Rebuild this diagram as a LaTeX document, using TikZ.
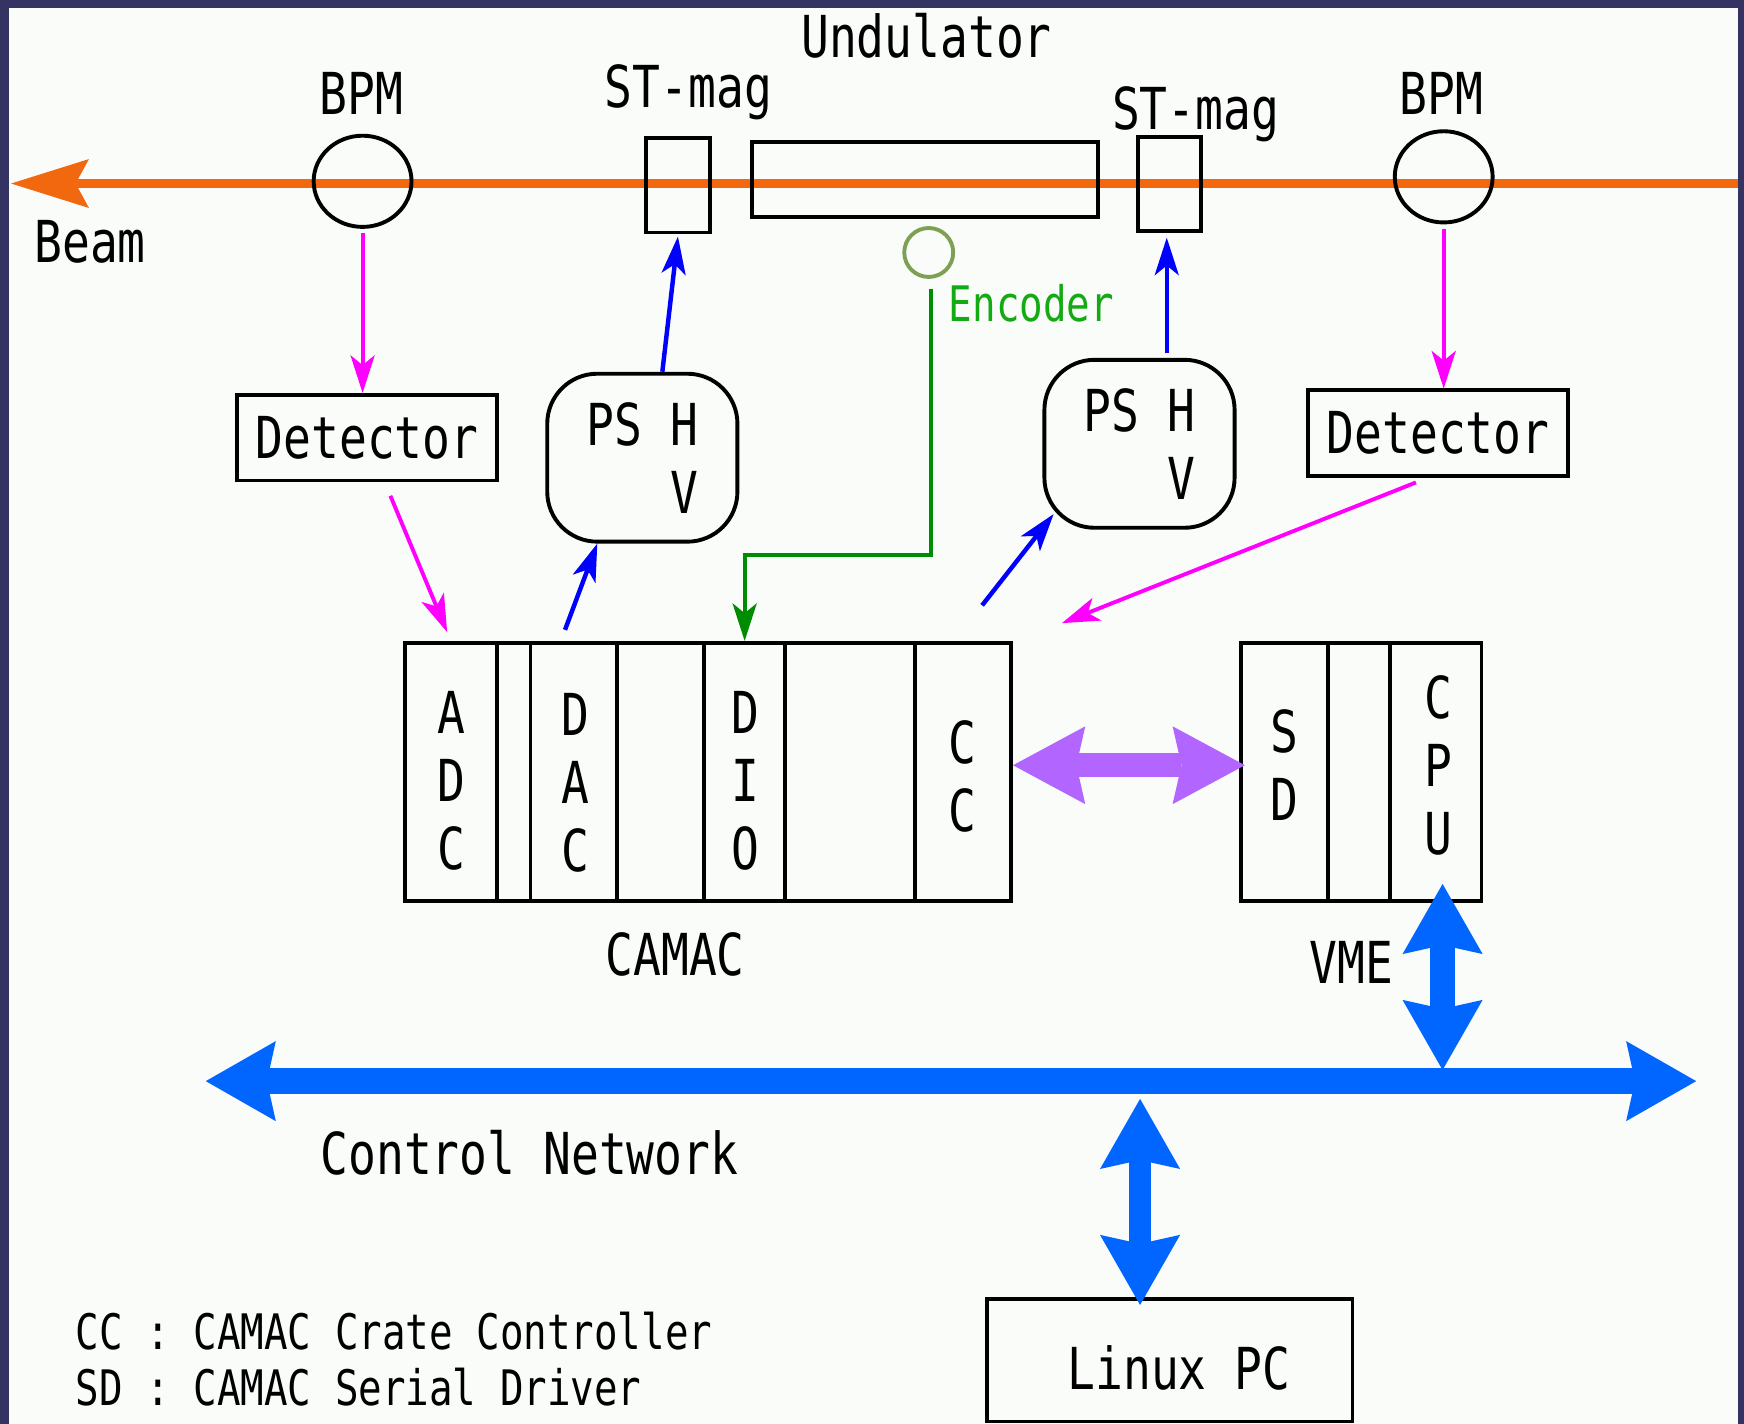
\documentclass[tikz,border=0pt]{standalone}
\usepackage{fontspec}
\setmainfont{DejaVu Sans Mono}[FakeStretch=0.8]
\usetikzlibrary{arrows.meta,shapes.geometric,calc}
\definecolor{frameC}{RGB}{52,51,98}
\definecolor{bgC}{RGB}{250,252,250}
\definecolor{beamC}{RGB}{242,104,14}
\definecolor{magC}{RGB}{255,0,255}
\definecolor{bluC}{RGB}{0,0,255}
\definecolor{grnC}{RGB}{0,140,0}
\definecolor{encT}{RGB}{20,170,20}
\definecolor{encC}{RGB}{125,160,85}
\definecolor{purpC}{RGB}{178,102,255}
\definecolor{netC}{RGB}{0,102,255}
\begin{document}
\begin{tikzpicture}[x=1pt,y=-1pt,
  box/.style={draw, line width=3.5pt, inner sep=0pt},
  lbl/.style={font=\fontsize{52}{61}\selectfont, inner sep=0pt},
  slbl/.style={font=\fontsize{44}{51}\selectfont, inner sep=0pt},
  beamline/.style={draw=beamC, line width=8.5pt, -{Stealth[length=70pt,width=44pt,inset=12pt,line width=0pt]}},
  thin/.style={line width=3.5pt, -{Stealth[length=34pt,width=22pt,inset=9pt,line width=0pt]}},
  magarr/.style={thin, draw=magC},
  bluarr/.style={thin, draw=bluC, line width=4pt},
  grnarr/.style={thin, draw=grnC},
  purparr/.style={draw=purpC, line width=22pt, {Stealth[length=65pt,width=70pt,inset=8pt,line width=0pt]}-{Stealth[length=65pt,width=70pt,inset=8pt,line width=0pt]}},
  netarr/.style={draw=netC, {Stealth[length=63pt,width=72pt,inset=8pt,line width=0pt]}-{Stealth[length=63pt,width=72pt,inset=8pt,line width=0pt]}},
]
\useasboundingbox (0,0) rectangle (1568,1280);
\fill[frameC] (0,0) rectangle (1568,1280);
\fill[bgC] (8,7) rectangle (1563,1280);

% beam line
\coordinate (beamR) at (1563,165);
\coordinate (beamL) at (10,165);
\draw[beamline] (beamR) -- (beamL);

% beamline elements
\node[ellipse, box, minimum width=88, minimum height=82] (bpmL) at (326,163) {};
\node[box, minimum width=57, minimum height=85] (stL) at (609.5,166.5) {};
\node[box, minimum width=311, minimum height=67] (und) at (831.5,161.5) {};
\node[box, minimum width=57, minimum height=85] (stR) at (1051.5,165.5) {};
\node[ellipse, box, minimum width=88, minimum height=82] (bpmR) at (1298,159) {};
\node[ellipse, draw=encC, line width=3.5pt, minimum size=44, inner sep=0pt] (enc) at (835,227) {};

% labels
\node[lbl, anchor=base] (bpmLt) at (325,103) {BPM};
\node[lbl, anchor=base] (stLt) at (619,97) {ST-mag};
\node[lbl, anchor=base] (undt) at (833,52) {Undulator};
\node[lbl, anchor=base] (stRt) at (1075,116) {ST-mag};
\node[lbl, anchor=base] (bpmRt) at (1296,103) {BPM};
\node[lbl, anchor=base] (beamt) at (81,236) {Beam};
\node[slbl, anchor=base west, text=encT] (enct) at (853,289) {Encoder};

% detectors and power supplies
\node[box, lbl, minimum width=234, minimum height=77] (detL) at (330,393.5) {Detector};
\node[box, lbl, minimum width=234, minimum height=77] (detR) at (1293,389.5) {Detector};
\node[box, lbl, rounded corners=45pt, minimum width=171, minimum height=151, align=left] (psL) at (577.5,411.5) {PS H\\\hphantom{PSH}V};
\node[box, lbl, rounded corners=45pt, minimum width=171, minimum height=151, align=left] (psR) at (1024.5,399) {PS H\\\hphantom{PSH}V};

% CAMAC crate
\node[box, minimum width=83, minimum height=232] (adc) at (405.5,694) {};
\node[box, minimum width=30, minimum height=232] (cm1) at (462,694) {};
\node[box, minimum width=78, minimum height=232] (dac) at (516,694) {};
\node[box, minimum width=78, minimum height=232] (cm2) at (594,694) {};
\node[box, minimum width=73, minimum height=232] (dio) at (669.5,694) {};
\node[box, minimum width=117, minimum height=232] (cm3) at (764.5,694) {};
\node[box, minimum width=86, minimum height=232] (cc) at (866,694) {};
\node[lbl, align=center] (adcT) at (406,702) {A\\D\\C};
\node[lbl, align=center] (dacT) at (517,704) {D\\A\\C};
\node[lbl, align=center] (dioT) at (670,702) {D\\I\\O};
\node[lbl, align=center] (ccT) at (865,698) {C\\C};
\node[lbl, anchor=base] (camacT) at (607,877) {CAMAC};

% VME crate
\node[box, minimum width=78, minimum height=232] (sd) at (1155,694) {};
\node[box, minimum width=56, minimum height=232] (vm1) at (1222,694) {};
\node[box, minimum width=82, minimum height=232] (cpu) at (1291,694) {};
\node[lbl, align=center] (sdT) at (1155,688) {S\\D};
\node[lbl, align=center] (cpuT) at (1293,688) {C\\P\\U};
\node[lbl, anchor=base] (vmeT) at (1215,884) {VME};

% Linux PC and texts
\node[box, lbl, minimum width=329, minimum height=110] (pc) at (1051.5,1223) {\hspace{17pt}\raisebox{-26pt}[0pt][0pt]{Linux PC}};
\node[lbl, anchor=base west] (cnT) at (288,1056) {Control Network};
\node[slbl, anchor=base west] (leg1) at (68,1213) {CC : CAMAC Crate Controller};
\node[slbl, anchor=base west] (leg2) at (68,1264) {SD : CAMAC Serial Driver};

% magenta signal arrows
\draw[magarr, shorten <=4pt] (bpmL.south) -- (bpmL.south |- detL.north);
\draw[magarr, shorten <=4pt] (bpmR.south) -- (bpmR.south |- detR.north);
\draw[magarr] ([xshift=21pt,yshift=-12pt]detL.south) -- ([xshift=-3.5pt,yshift=8pt]adc.north);
\draw[magarr] ([xshift=-20pt,yshift=-4pt]detR.south) -- ([xshift=44pt,yshift=16pt]cc.north east);

% blue control arrows
\draw[bluarr] ([xshift=18pt]psL.north) -- ([yshift=-2pt]stL.south);
\draw[bluarr] ([xshift=24.5pt,yshift=4pt]psR.north) -- ([xshift=-2.5pt,yshift=-4pt]stR.south);
\draw[bluarr] ([xshift=-8pt,yshift=10pt]dac.north) -- ([xshift=-40.5pt]psL.south);
\draw[bluarr] ([xshift=17pt,yshift=32pt]cc.north) -- ([xshift=10pt,yshift=14pt]psR.south west);

% encoder
\draw[grnarr] ([xshift=2pt,yshift=-9pt]enc.south) -- ++(0,239) -| (dio.north);

% serial link
\draw[purparr] ([yshift=6pt]cc.east) -- ([xshift=5pt,yshift=6pt]sd.west);

% control network
\coordinate (busL) at (185,972);
\coordinate (busR) at (1525,972);
\draw[netarr, line width=24pt] (busL) -- (busR);
\coordinate (vmeJ) at (1297,962);
\draw[netarr, line width=23pt] (vmeJ) -- ([xshift=6pt,yshift=17pt]cpu.south);
\coordinate (pcJ) at (1025,988);
\draw[netarr, line width=20pt] (pcJ) -- ([xshift=-26.5pt,yshift=-7pt]pc.north);
\end{tikzpicture}
\end{document}
